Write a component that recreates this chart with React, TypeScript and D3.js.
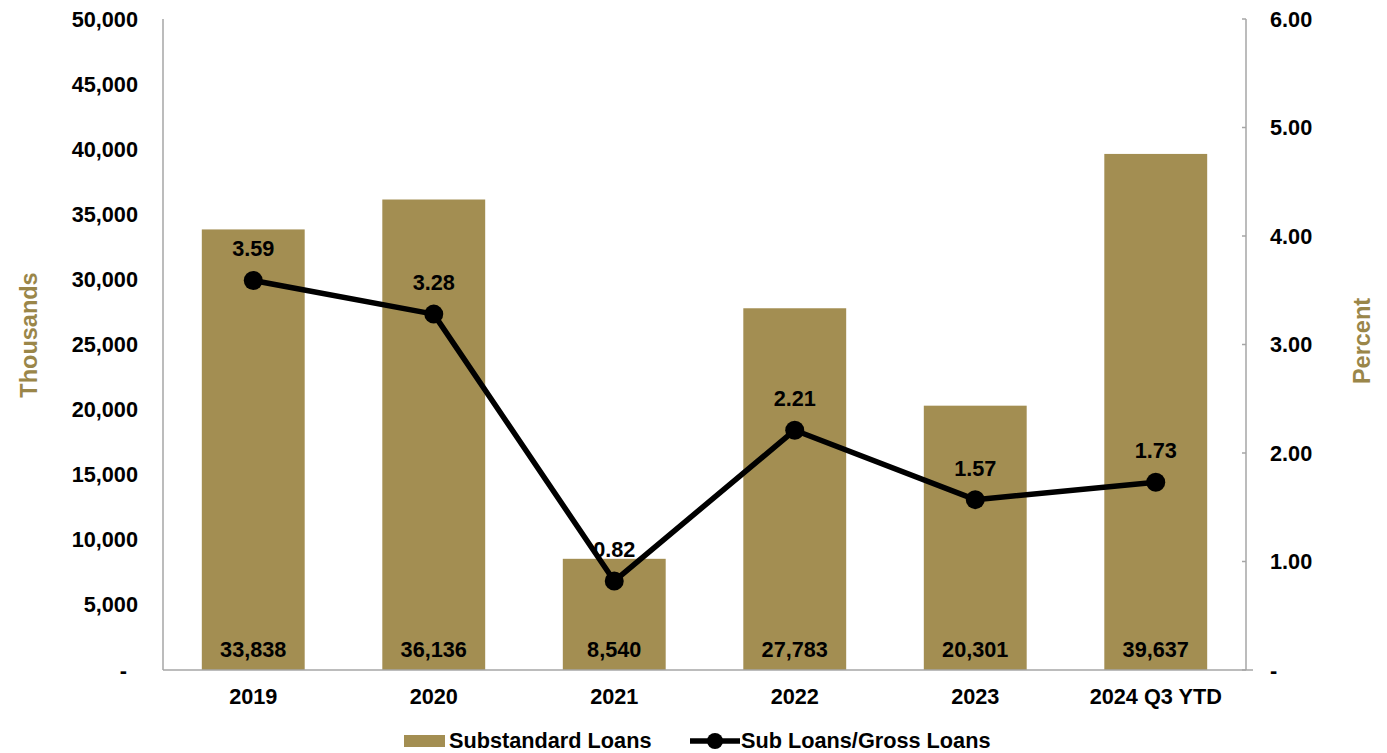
import React from "react";
import * as d3 from "d3";

const categories = ["2019", "2020", "2021", "2022", "2023", "2024 Q3 YTD"];
const substandardLoans = [33838, 36136, 8540, 27783, 20301, 39637];
const subToGrossPct = [3.59, 3.28, 0.82, 2.21, 1.57, 1.73];
const leftTicks = [0, 5000, 10000, 15000, 20000, 25000, 30000, 35000, 40000, 45000, 50000];
const rightTicks = [0, 1, 2, 3, 4, 5, 6];

const W = 1387;
const H = 753;
const M = { left: 163, right: 1246, top: 19, bottom: 670 };
const GOLD = "#A38E52";
const TITLE_GOLD = "#9A8649";
const AXIS = "#A6A6A6";
const FONT = "'Liberation Sans', Arial, sans-serif";
const FS = 21.7;
const TFS = 23.5;

export default function App() {
  const x = d3.scaleBand<string>().domain(categories).range([M.left, M.right]).paddingInner(0.43).paddingOuter(0.215);
  const xc = (c: string) => (x(c) as number) + x.bandwidth() / 2;
  const yL = d3.scaleLinear().domain([0, 50000]).range([M.bottom, M.top]);
  const yR = d3.scaleLinear().domain([0, 6]).range([M.bottom, M.top]);
  const fmt = d3.format(",");
  const line = d3
    .line<number>()
    .x((_, i) => xc(categories[i]))
    .y((d) => yR(d));

  return (
    <svg width={W} height={H} style={{ display: "block", position: "absolute", left: 0, top: 0 }} fontFamily={FONT} fontWeight="bold">
      <rect x={0} y={0} width={W} height={H} fill="#fff" />
      {/* bars */}
      {categories.map((c, i) => (
        <rect key={c} x={x(c)} y={yL(substandardLoans[i])} width={x.bandwidth()} height={yL(0) - yL(substandardLoans[i])} fill={GOLD} />
      ))}
      {/* axes */}
      <line x1={M.left} x2={M.left} y1={M.top} y2={M.bottom} stroke={AXIS} strokeWidth={1.5} />
      <line x1={M.right} x2={M.right} y1={M.top} y2={M.bottom} stroke={AXIS} strokeWidth={1.5} />
      <line x1={M.left} x2={M.right + 7} y1={M.bottom} y2={M.bottom} stroke={AXIS} strokeWidth={1.5} />
      {rightTicks.map((t) => (
        <line key={"rt" + t} x1={M.right - 4} x2={M.right} y1={yR(t)} y2={yR(t)} stroke={AXIS} strokeWidth={1.5} />
      ))}
      {/* left tick labels */}
      {leftTicks.map((t) => (
        <text key={"l" + t} x={t === 0 ? 127 : 138} y={yL(t) + 7.5} textAnchor="end" fontSize={FS} fill="#000">
          {t === 0 ? "-" : fmt(t)}
        </text>
      ))}
      {/* right tick labels */}
      {rightTicks.map((t) => (
        <text key={"r" + t} x={1270} y={yR(t) + 7.5} textAnchor="start" fontSize={FS} fill="#000">
          {t === 0 ? "-" : t.toFixed(2)}
        </text>
      ))}
      {/* x labels */}
      {categories.map((c) => (
        <text key={"x" + c} x={xc(c)} y={704} textAnchor="middle" fontSize={FS} fill="#000">
          {c}
        </text>
      ))}
      {/* bar value labels */}
      {categories.map((c, i) => (
        <text key={"bv" + c} x={xc(c)} y={657} textAnchor="middle" fontSize={FS} fill="#000">
          {fmt(substandardLoans[i])}
        </text>
      ))}
      {/* line */}
      <path d={line(subToGrossPct) || ""} fill="none" stroke="#000" strokeWidth={5.5} strokeLinejoin="round" />
      {subToGrossPct.map((v, i) => (
        <circle key={"p" + i} cx={xc(categories[i])} cy={yR(v)} r={9.5} fill="#000" />
      ))}
      {subToGrossPct.map((v, i) => (
        <text key={"pv" + i} x={xc(categories[i])} y={yR(v) - 24} textAnchor="middle" fontSize={FS} fill="#000">
          {v.toFixed(2)}
        </text>
      ))}
      {/* axis titles */}
      <text transform={`translate(37, 335) rotate(-90)`} textAnchor="middle" fontSize={TFS} fill={TITLE_GOLD}>
        Thousands
      </text>
      <text transform={`translate(1370, 341) rotate(-90)`} textAnchor="middle" fontSize={TFS} fill={TITLE_GOLD}>
        Percent
      </text>
      {/* legend */}
      <rect x={404} y={735} width={41} height={12} fill={GOLD} />
      <text x={449} y={748} fontSize={FS} fill="#000">Substandard Loans</text>
      <line x1={690} x2={740} y1={741} y2={741} stroke="#000" strokeWidth={5.5} />
      <circle cx={715} cy={741} r={8} fill="#000" />
      <text x={741} y={748} fontSize={FS} fill="#000">Sub Loans/Gross Loans</text>
    </svg>
  );
}
